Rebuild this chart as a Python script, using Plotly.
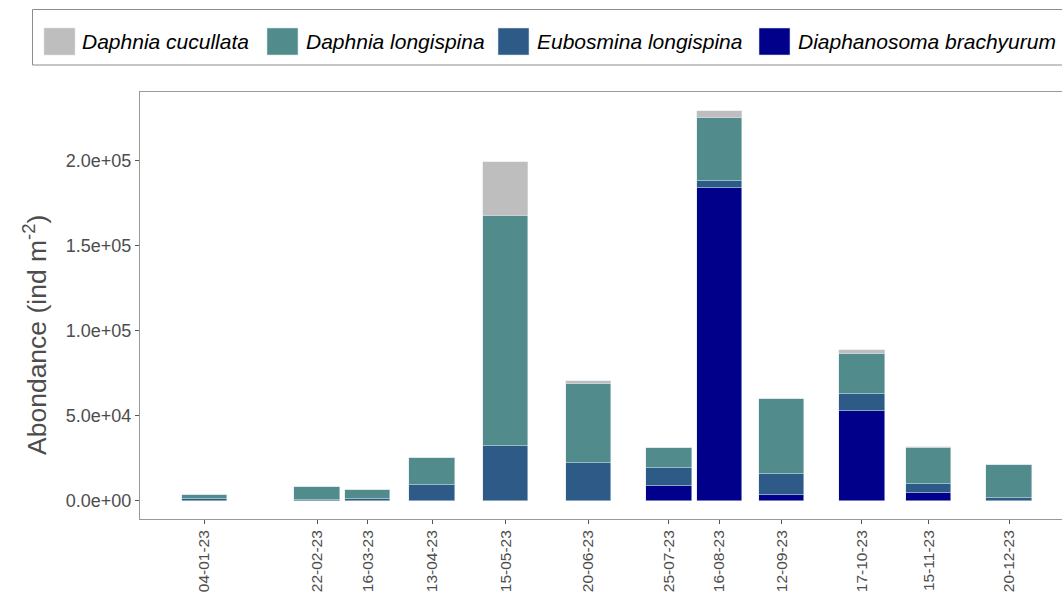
import plotly.graph_objects as go

# ---- data ----
dates = ["2023-01-04", "2023-02-22", "2023-03-16", "2023-04-13", "2023-05-15", "2023-06-20",
         "2023-07-25", "2023-08-16", "2023-09-12", "2023-10-17", "2023-11-15", "2023-12-20"]
date_labels = ["04-01-23", "22-02-23", "16-03-23", "13-04-23", "15-05-23", "20-06-23",
               "25-07-23", "16-08-23", "12-09-23", "17-10-23", "15-11-23", "20-12-23"]

diaphanosoma_brachyurum = [0, 0, 0, 0, 0, 0, 9000, 184100, 3500, 52900, 4900, 0]
eubosmina_longispina = [1200, 800, 1200, 9400, 32400, 22400, 10400, 3700, 12200, 9800, 5300, 1600]
daphnia_longispina = [2600, 7200, 5300, 15700, 135300, 46600, 11900, 37500, 44100, 23500, 21000, 19600]
daphnia_cucullata = [0, 0, 0, 0, 31600, 1600, 0, 3700, 300, 2500, 600, 0]

y_tickvals = [0, 50000, 100000, 150000, 200000]
y_ticktext = ["0.0e+00", "5.0e+04", "1.0e+05", "1.5e+05", "2.0e+05"]

# stacking order bottom -> top
series = [
    ("Diaphanosoma brachyurum", diaphanosoma_brachyurum, "#00008B"),
    ("Eubosmina longispina", eubosmina_longispina, "#2D5A87"),
    ("Daphnia longispina", daphnia_longispina, "#528B8B"),
    ("Daphnia cucullata", daphnia_cucullata, "#BEBEBE"),
]
legend_order = ["Daphnia cucullata", "Daphnia longispina", "Eubosmina longispina", "Diaphanosoma brachyurum"]
colors = {n: c for n, _, c in series}

FONT = "Liberation Sans, Arial, sans-serif"
W, H = 1062, 592
OFF = 0  # body margin removed by post_script
# desired plot area in page pixels: x 140..1062, y 92..519
ML, MR, MT = 140 - OFF, 0, 92 - OFF
MB = H - (519 - OFF)
PW, PH = W - ML - MR, H - MT - MB

bar_width_ms = 19.8 * 86400000

fig = go.Figure()
for name, vals, col in series:
    fig.add_trace(go.Bar(
        x=dates, y=vals, name=name, width=bar_width_ms,
        marker=dict(color=col, line=dict(color="rgba(215,228,238,0.9)", width=0.6)),
        showlegend=False,
    ))

# helpers: page pixel -> paper coords
def px_x(px):
    return (px - OFF - ML) / PW

def px_y(py):
    return (H - MB - (py - OFF)) / PH

# manual legend (large square keys like the reference)
shapes = [dict(type="rect", xref="paper", yref="paper",
               x0=px_x(32.5), x1=px_x(1080), y0=px_y(65), y1=px_y(9.5),
               line=dict(color="#8C8C8C", width=1), fillcolor="white", layer="above")]
annotations = []
key_x = [44, 267, 498, 759]
text_x = [80, 304, 535, 796]
for name, kx, tx in zip(legend_order, key_x, text_x):
    shapes.append(dict(type="rect", xref="paper", yref="paper",
                       x0=px_x(kx), x1=px_x(kx + 31), y0=px_y(55), y1=px_y(28),
                       line=dict(color="rgba(215,228,238,0.9)", width=0.6),
                       fillcolor=colors[name], layer="above"))
    annotations.append(dict(xref="paper", yref="paper", x=px_x(tx), y=px_y(41.5),
                            xanchor="left", yanchor="middle", showarrow=False,
                            text="<i>" + name + "</i>",
                            font=dict(family=FONT, size=21, color="black")))

# y-axis title
annotations.append(dict(xref="paper", yref="paper", x=px_x(35), y=px_y(335),
                        xanchor="center", yanchor="middle", showarrow=False, textangle=-90,
                        text="Abondance (ind m<sup>-2</sup>)",
                        font=dict(family=FONT, size=26.5, color="#4D4D4D")))

fig.update_layout(
    width=W, height=H,
    margin=dict(l=ML, r=MR, t=MT, b=MB, autoexpand=False),
    barmode="stack",
    bargap=0,
    plot_bgcolor="white", paper_bgcolor="white",
    font=dict(family=FONT),
    shapes=shapes, annotations=annotations,
    showlegend=False,
)
fig.update_xaxes(
    type="date",
    range=["2022-12-07", "2024-01-12"],
    tickvals=dates, ticktext=date_labels, tickangle=-90,
    tickfont=dict(family=FONT, size=15.5, color="#4D4D4D"),
    ticks="outside", ticklen=4, tickcolor="#555555",
    showgrid=False, zeroline=False,
    showline=True, mirror=True, linecolor="#999999", linewidth=1,
)
fig.update_yaxes(
    range=[-10600, 240400],
    tickvals=y_tickvals, ticktext=y_ticktext,
    tickfont=dict(family=FONT, size=18, color="#4D4D4D"),
    ticks="outside", ticklen=4, tickcolor="#555555",
    showgrid=False, zeroline=False,
    showline=True, mirror=False, linecolor="#999999", linewidth=1,
)

fig.write_html(
    "out.html",
    config={"displayModeBar": False},
    post_script="document.body.style.margin='0';document.body.style.overflow='hidden';",
)
